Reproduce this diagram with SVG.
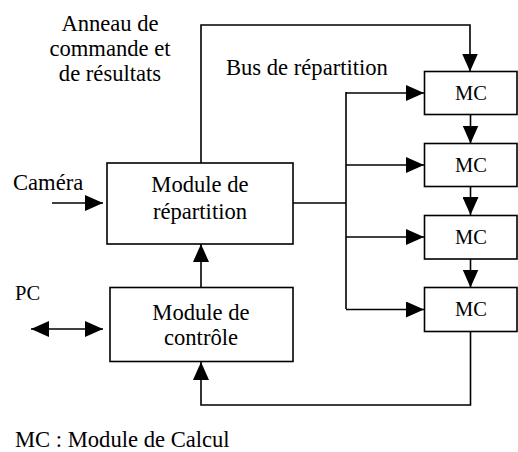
<svg xmlns="http://www.w3.org/2000/svg" width="518" height="452" viewBox="0 0 518 452">
<style>
.box{fill:#fff;stroke:#000;stroke-width:1.6}
.ln{fill:none;stroke:#000;stroke-width:1.6}
text{font-family:'Liberation Serif','Times New Roman',Times,serif;fill:#000}
.t{font-size:22.6px}
.m{font-size:20.5px}
</style>
<defs>
<marker id="ah" markerUnits="userSpaceOnUse" markerWidth="18" markerHeight="16" refX="18" refY="8" orient="auto-start-reverse" viewBox="0 0 18 16">
<path d="M0,0 L18,8 L0,16 z" fill="#000"/>
</marker>
</defs>
<g id="connectors">
<path class="ln" d="M201,163 V25 H470 V71.5" marker-end="url(#ah)"/>
<path class="ln" d="M293,203 H346"/>
<path class="ln" d="M346,92 V309"/>
<path class="ln" d="M346,93 H424" marker-end="url(#ah)"/>
<path class="ln" d="M346,165 H424" marker-end="url(#ah)"/>
<path class="ln" d="M346,237 H424" marker-end="url(#ah)"/>
<path class="ln" d="M346,309.5 H424" marker-end="url(#ah)"/>
<path class="ln" d="M470.5,114.5 V143.5" marker-end="url(#ah)"/>
<path class="ln" d="M470.5,186.5 V215" marker-end="url(#ah)"/>
<path class="ln" d="M470.5,259 V287.5" marker-end="url(#ah)"/>
<path class="ln" d="M470.5,331.5 V405 H201 V362" marker-end="url(#ah)"/>
<path class="ln" d="M201,287 V244" marker-end="url(#ah)"/>
<path class="ln" d="M52,203 H103" marker-end="url(#ah)"/>
<path class="ln" d="M31,329 H103" marker-start="url(#ah)" marker-end="url(#ah)"/>
</g>
<g id="repartition">
<rect class="box" x="107" y="163" width="186" height="81"/>
<text class="t" x="200" y="192" text-anchor="middle">Module de</text>
<text class="t" x="200" y="219" text-anchor="middle">répartition</text>
</g>
<g id="controle">
<rect class="box" x="110" y="287.5" width="183" height="74"/>
<text class="t" x="201" y="320" text-anchor="middle">Module de</text>
<text class="t" x="201" y="345" text-anchor="middle">contrôle</text>
</g>
<g id="mc1">
<rect class="box" x="424.5" y="71.5" width="92.5" height="43"/>
<text class="m" x="471" y="100" text-anchor="middle">MC</text>
</g>
<g id="mc2">
<rect class="box" x="424.5" y="143.5" width="92.5" height="43"/>
<text class="m" x="471" y="172" text-anchor="middle">MC</text>
</g>
<g id="mc3">
<rect class="box" x="424.5" y="215.5" width="92.5" height="43.5"/>
<text class="m" x="471" y="244" text-anchor="middle">MC</text>
</g>
<g id="mc4">
<rect class="box" x="424.5" y="287.5" width="92.5" height="44"/>
<text class="m" x="471" y="316" text-anchor="middle">MC</text>
</g>
<g id="labels">
<text class="t" x="110" y="31" text-anchor="middle">Anneau de</text>
<text class="t" x="110" y="56" text-anchor="middle">commande et</text>
<text class="t" x="110" y="81" text-anchor="middle">de résultats</text>
<text class="t" x="226" y="75">Bus de répartition</text>
<text class="t" x="13" y="190">Caméra</text>
<text class="m" x="15" y="300">PC</text>
<text class="t" x="15" y="447">MC : Module de Calcul</text>
</g>
</svg>
